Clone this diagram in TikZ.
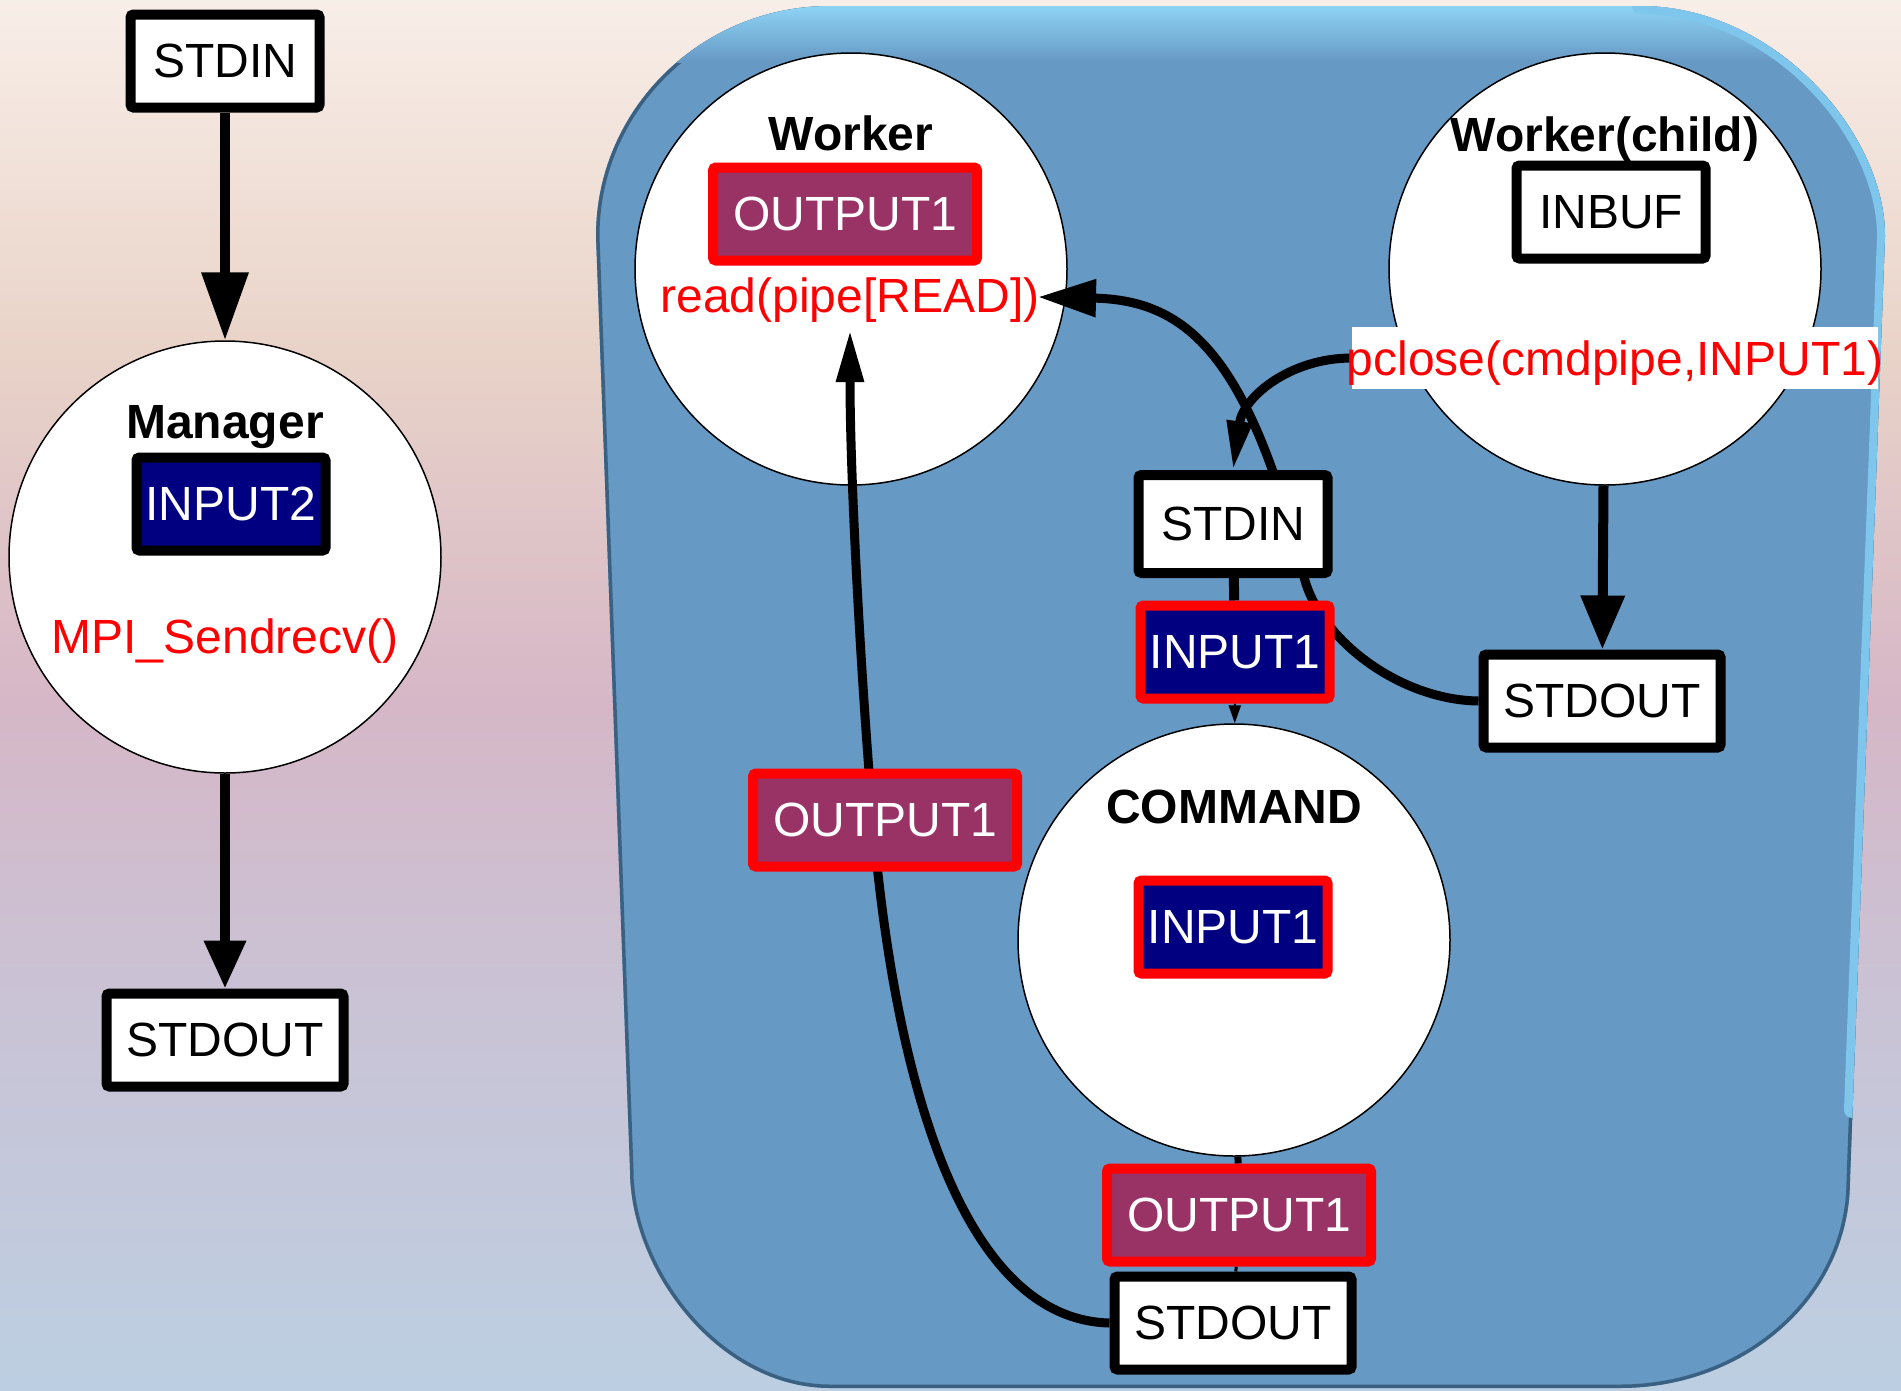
\documentclass[tikz,border=0pt]{standalone}
\usepackage{fontspec}
\setmainfont{Liberation Sans}
\usetikzlibrary{arrows.meta}

\definecolor{navybox}{HTML}{000080}
\definecolor{plumbox}{HTML}{993366}
\definecolor{bluefill}{HTML}{6699C4}
\definecolor{bluehi}{HTML}{92D9FA}
\definecolor{bluerim}{HTML}{7EC6EC}
\definecolor{bluedark}{HTML}{3A6182}
\definecolor{bgtop}{HTML}{F8EEE8}
\definecolor{bgpeach}{HTML}{E9D3C8}
\definecolor{bgmid}{HTML}{D6B7C7}
\definecolor{bglav}{HTML}{C9C3D5}
\definecolor{bgbot}{HTML}{BCCFE2}

% backdrop: cream at the top, mauve in the middle, pale blue at the bottom
\pgfdeclareverticalshading{backdrop}{100bp}{color(0bp)=(bgbot); color(25bp)=(bgbot);
  color(39bp)=(bglav); color(49.8bp)=(bgmid); color(62.4bp)=(bgpeach);
  color(75bp)=(bgtop); color(100bp)=(bgtop)}

\pgfdeclarelayer{back}
\pgfdeclarelayer{wires}
\pgfsetlayers{back,wires,main}

\newcommand\dfont{\fontsize{48pt}{58pt}\selectfont}
% outline of the blue process panel
\newcommand\paneloutline{(596,236) .. controls (596,109) and (701,6) .. (830,6) -- (1640,6)
  .. controls (1775,6) and (1885,133) .. (1885,236) -- (1850,1180)
  .. controls (1850,1296) and (1747,1388) .. (1620,1388) -- (830,1388)
  .. controls (720,1388) and (630,1272) .. (630,1170) -- cycle}

\tikzset{
  every node/.style={font=\dfont},
  proc/.style={circle, draw=black, line width=1.5pt, fill=white, minimum size=432pt, inner sep=0pt},
  plainbox/.style={draw=black, fill=white, line width=10pt, rounded corners=3pt,
                   inner sep=0pt, minimum height=93pt, text=black},
  inbox/.style={plainbox, fill=navybox, text=white},
  redin/.style={plainbox, draw=red, fill=navybox, text=white},
  redout/.style={plainbox, draw=red, fill=plumbox, text=white},
  wa/.style={minimum width=189pt},
  wb/.style={minimum width=237pt},
  wc/.style={minimum width=264pt},
  title/.style={font=\dfont\bfseries, anchor=base, inner sep=0pt},
  call/.style={text=red, anchor=base, inner sep=0pt},
  wire/.style={draw=black, line width=9pt},
}

\begin{document}
\begin{tikzpicture}[x=1pt, y=-1pt]
\useasboundingbox (0,0) rectangle (1901,1390);

\begin{pgfonlayer}{back}
  \shade[shading=backdrop] (0,0) rectangle (1901,1390);
  % blue panel with bevelled rim
  \fill[bluefill] \paneloutline;
  \begin{scope}
    \clip \paneloutline;
    \draw[bluedark, line width=7pt] \paneloutline;
    \shade[top color=bluehi, bottom color=bluefill] (560,0) rectangle (1901,62);
    \draw[bluerim, line width=16pt, line cap=round]
      (1640,6) .. controls (1775,6) and (1885,133) .. (1885,236) -- (1852,1110);
  \end{scope}
  % processes
  \node[proc] (mgr) at (225,557) {};
  \node[proc] (wrk) at (851,269) {};
  \node[proc] (wch) at (1605,269) {};
  \node[proc] (cmd) at (1234,940) {};
\end{pgfonlayer}

% manager column
\node[plainbox,wa] (stdinL) at (225,61) {STDIN};
\node[title] (mgrT) at (225,438) {Manager};
\node[inbox,wa] (in2) at (231,504) {INPUT2};
\node[call] (mpi) at (225,653) {MPI\_Sendrecv()};
\node[plainbox,wb] (stdoutL) at (225,1040) {STDOUT};

% worker
\node[title] (wrkT) at (851,150) {Worker};
\node[redout,wc] (out1W) at (845,214) {OUTPUT1};
\node[call] (readT) at (850,312) {read(pipe[READ])};
\coordinate (rdtip) at (850,330);
\coordinate (rdhook) at (1038,297);

% worker child
\node[title] (wchT) at (1605,151) {Worker(child)};
\node[plainbox,wa] (inbuf) at (1611,212) {INBUF};
\node[call, fill=white, inner xsep=-5pt, inner ysep=0pt, text height=48pt, text depth=14pt]
  (pcl) at (1615,375) {pclose(cmdpipe,INPUT1)};

% command pipeline
\node[plainbox,wa,minimum height=98pt] (stdinM) at (1233,524) {STDIN};
\node[redin,wa] (in1M) at (1235,652) {INPUT1};
\node[plainbox,wb] (stdoutR) at (1602,701) {STDOUT};
\node[title] (cmdT) at (1234,823) {COMMAND};
\node[redin,wa] (in1C) at (1233,927) {INPUT1};
\node[redout,wc] (out1B) at (1239,1215) {OUTPUT1};
\node[plainbox,wb] (stdoutB) at (1233,1323) {STDOUT};
\node[redout,wc] (out1L) at (885,820) {OUTPUT1};

\begin{pgfonlayer}{wires}
  \draw[line width=10pt, -{Triangle[length=68pt,width=45pt]}] (stdinL) -- (mgr);
  \draw[line width=10pt, -{Triangle[length=48pt,width=40pt]}] (mgr) -- (stdoutL);
  \draw[line width=10pt, -{Triangle[length=54pt,width=42pt]}] (wch) -- (stdoutR);
  \draw[line width=10pt] (stdinM) -- (in1M);
  \draw[line width=2pt, -{Triangle[length=18pt,width=12pt]}] (in1M) -- (cmd);
  \draw[line width=7pt] (cmd) -- (out1B);
  \draw[line width=3pt] (out1B) -- (stdoutB);
  \draw[wire, -{Triangle[length=52pt,width=26pt]}] (stdoutB.west)
     .. controls (980,1320) and (907,1134) .. (878,874)
     .. controls (866,760) and (850,500) .. (rdtip);
  \draw[wire, -{Triangle[length=58pt,width=36pt]}] (stdoutR.west)
     .. controls (1400,700) and (1320,640) .. (1304,577)
     .. controls (1249,357) and (1188,300) .. (rdhook);
  \draw[wire, -{Triangle[length=49pt,width=24pt]}] (pcl.west)
     .. controls (1290,358) and (1243,397) .. (stdinM.north);
\end{pgfonlayer}
\end{tikzpicture}
\end{document}
